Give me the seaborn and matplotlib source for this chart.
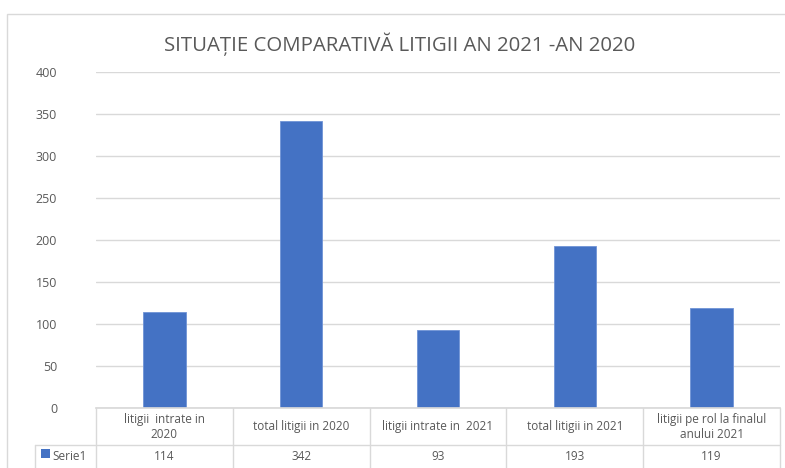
import pandas as pd
import matplotlib.pyplot as plt
import matplotlib.transforms as mtransforms
from matplotlib.patches import Rectangle
import seaborn as sns

# Data
categories = ["litigii  intrate in\n2020", "total litigii in 2020", "litigii intrate in  2021",
              "total litigii in 2021", "litigii pe rol la finalul\nanului 2021"]
values = [114, 342, 93, 193, 119]
series_name = "Serie1"

BAR_COLOR = "#4472C4"
TEXT_COLOR = "#595959"
GRID_COLOR = "#D9D9D9"

sns.set_theme(style="white")
plt.rcParams['font.family'] = ['Open Sans', 'DejaVu Sans']

df = pd.DataFrame({"cat": categories, "val": values})

W, H = 785, 468
fig = plt.figure(figsize=(W / 100, H / 100), dpi=100)
ax = fig.add_axes([96 / W, (H - 408) / H, (780 - 96) / W, (408 - 72) / H])

# chart border
fig.patches.append(Rectangle((7 / W, -0.1), 1.0, (H - 14) / H + 0.1, transform=fig.transFigure,
                             fill=False, edgecolor=GRID_COLOR, linewidth=1.0))

sns.barplot(data=df, x="cat", y="val", color=BAR_COLOR, width=0.31, ax=ax,
            edgecolor="#6F93D6", linewidth=0.6, saturation=1)

ax.set_ylim(0, 400)
ax.set_xlim(-0.5, len(categories) - 0.5)
ax.set_yticks(range(0, 401, 50))
ax.yaxis.grid(True, color=GRID_COLOR, linewidth=1.0)
ax.set_axisbelow(True)
for s in ["top", "right", "left"]:
    ax.spines[s].set_visible(False)
ax.spines["bottom"].set_color(GRID_COLOR)
ax.tick_params(axis="y", length=0, pad=28, labelsize=9, labelcolor=TEXT_COLOR)
ax.set_xticks([])
ax.set_xlabel("")
ax.set_ylabel("")

fig.text(400 / W, (H - 44) / H, "SITUAȚIE COMPARATIVĂ LITIGII AN 2021 -AN 2020",
         ha="center", va="center", fontsize=14.7, color=TEXT_COLOR)

# data table below the axis
trans = mtransforms.blended_transform_factory(ax.transData, fig.transFigure)
def fy(y):
    return (H - y) / H

row1_mid, row2_top, row2_mid = 426.5, 445, 457
for i in range(len(categories) + 1):
    ax.plot([i - 0.5, i - 0.5], [fy(408), fy(475)], transform=trans, color=GRID_COLOR,
            linewidth=1.0, clip_on=False)
ax.plot([-0.5, len(categories) - 0.5], [fy(row2_top)] * 2, transform=trans, color=GRID_COLOR,
        linewidth=1.0, clip_on=False)
fig.lines.append(plt.Line2D([35 / W, 96 / W], [fy(row2_top)] * 2, transform=fig.transFigure,
                            color=GRID_COLOR, linewidth=1.0))
fig.lines.append(plt.Line2D([35 / W, 35 / W], [fy(row2_top), fy(475)], transform=fig.transFigure,
                            color=GRID_COLOR, linewidth=1.0))

for i, (c, v) in enumerate(zip(categories, values)):
    ax.text(i, fy(row1_mid), c, transform=trans, ha="center", va="center", fontsize=8.5,
            color=TEXT_COLOR, linespacing=1.2)
    ax.text(i, fy(row2_mid), str(v), transform=trans, ha="center", va="center", fontsize=8.5,
            color=TEXT_COLOR)

fig.patches.append(Rectangle((41 / W, fy(458)), 9 / W, 9 / H, transform=fig.transFigure,
                             facecolor=BAR_COLOR, edgecolor="none"))
fig.text(52 / W, fy(row2_mid), series_name, ha="left", va="center", fontsize=8.5, color=TEXT_COLOR)

fig.savefig("out.png", dpi=100)
